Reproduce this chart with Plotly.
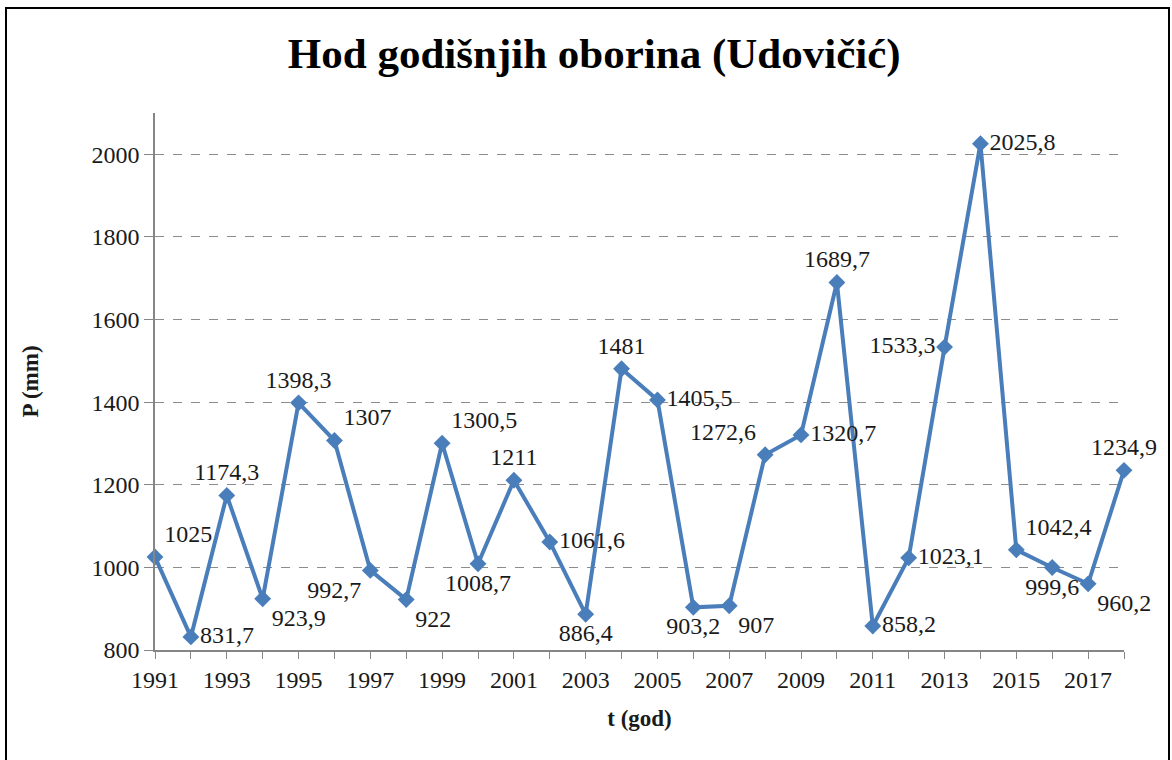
import plotly.graph_objects as go

years = list(range(1991, 2019))
precip = [1025, 831.7, 1174.3, 923.9, 1398.3, 1307, 992.7, 922, 1300.5, 1008.7,
          1211, 1061.6, 886.4, 1481, 1405.5, 903.2, 907, 1272.6, 1320.7, 1689.7,
          858.2, 1023.1, 1533.3, 2025.8, 1042.4, 999.6, 960.2, 1234.9]
label_pos = ["top right", "middle right", "top center", "bottom right", "top center",
             "top right", "bottom left", "bottom right", "top right", "bottom center",
             "top center", "middle right", "bottom center", "top center", "middle right",
             "bottom center", "bottom right", "top left", "middle right", "top center",
             "middle right", "middle right", "middle left", "middle right", "top right",
             "bottom center", "bottom right", "top center"]
y_ticks = [800, 1000, 1200, 1400, 1600, 1800, 2000]

labels = [f"{v:g}".replace(".", ",") for v in precip]

FONT = "Liberation Serif, Times New Roman, serif"
BLUE = "#4A7EBB"

fig = go.Figure()
fig.add_trace(go.Scatter(
    x=years, y=precip, mode="lines+markers+text",
    line=dict(color=BLUE, width=4),
    marker=dict(symbol="diamond", size=13, color=BLUE),
    text=labels, textposition=label_pos,
    textfont=dict(family=FONT, size=24, color="#1a1a1a"),
    cliponaxis=False, showlegend=False,
))

fig.update_layout(
    width=1172, height=760,
    margin=dict(l=155, r=48, t=113, b=110),
    paper_bgcolor="white", plot_bgcolor="white",
    font=dict(family=FONT, color="#1a1a1a"),
    title=dict(text="<b>Hod godišnjih oborina (Udovičić)</b>",
               x=0.507, xref="container", xanchor="center",
               y=0.93, yref="container", yanchor="middle",
               font=dict(family=FONT, size=43, color="black")),
    xaxis=dict(range=[1991, 2018], tick0=1991, dtick=2,
               showgrid=False, zeroline=False,
               showline=True, linecolor="#868686", linewidth=1.5,
               ticks="outside", ticklen=7, tickcolor="#868686",
               minor=dict(dtick=1, tick0=1991, ticks="outside", ticklen=7, tickcolor="#868686"),
               tickfont=dict(family=FONT, size=24, color="#1a1a1a"),
               title=dict(text="<b>t (god)</b>", standoff=18,
                          font=dict(family=FONT, size=23, color="#1a1a1a"))),
    yaxis=dict(range=[800, 2100], tickvals=y_ticks,
               showgrid=True, gridcolor="#8c8c8c", griddash="dash", gridwidth=1,
               zeroline=False,
               showline=True, linecolor="#868686", linewidth=1.5,
               ticks="outside", ticklen=9, tickcolor="#868686",
               tickfont=dict(family=FONT, size=24, color="#1a1a1a"),
               title=dict(text="<b>P (mm)</b>", standoff=46,
                          font=dict(family=FONT, size=23, color="#1a1a1a"))),
)

fig.add_shape(type="rect", xref="paper", yref="paper",
              x0=(6 - 155) / 969, x1=(1169 - 155) / 969,
              y0=-0.3, y1=(650 - 8) / 537,
              line=dict(color="black", width=2), fillcolor="rgba(0,0,0,0)", layer="below")

fig.write_html("out.html",
               config={"displayModeBar": False},
               post_script="document.body.style.margin='0';document.documentElement.style.overflow='hidden';")
